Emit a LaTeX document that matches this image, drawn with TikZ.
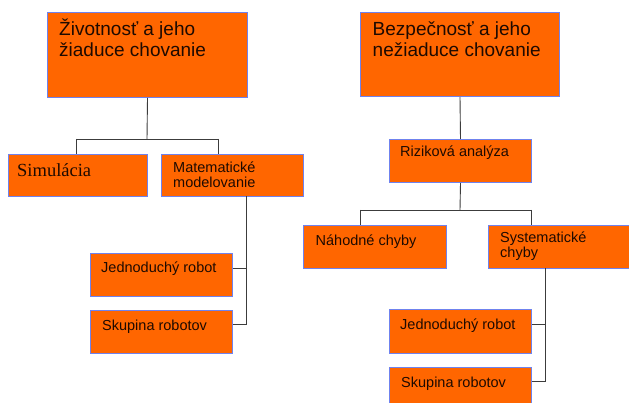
\documentclass[tikz,border=0pt]{standalone}
\usepackage{fontspec}
\setmainfont{Liberation Sans}
\newfontfamily\serifit{Liberation Serif}
\definecolor{boxfill}{HTML}{FF6600}
\definecolor{boxline}{HTML}{6F82EE}
\definecolor{conn}{HTML}{3C3C3C}
\definecolor{txtc}{HTML}{1E0A00}
\tikzset{
  box/.style={draw=boxline, line width=1pt, fill=boxfill, inner sep=0pt, anchor=north west},
  big/.style={anchor=base west, inner sep=0pt, text=txtc, align=left, font=\fontsize{19}{21}\selectfont},
  small/.style={anchor=base west, inner sep=0pt, text=txtc, align=left, font=\fontsize{14.5}{15}\selectfont},
  wire/.style={draw=conn, line width=0.9pt}
}
\begin{document}
\begin{tikzpicture}[x=1pt,y=-1pt]
\useasboundingbox (0,0) rectangle (629,403);
\fill[white] (0,0) rectangle (629,403);
\clip (0,0) rectangle (629,403);
% left tree boxes
\node[box, minimum width=200pt, minimum height=85pt] (L1) at (47,12) {};
\node[box, minimum width=139pt, minimum height=42pt] (sim) at (8,154) {};
\node[box, minimum width=142pt, minimum height=42pt] (mat) at (161,154) {};
\node[box, minimum width=142pt, minimum height=43pt] (jrl) at (90,253) {};
\node[box, minimum width=142pt, minimum height=43pt] (srl) at (90,310) {};
% right tree boxes
\node[box, minimum width=199pt, minimum height=84pt] (R1) at (360,12) {};
\node[box, minimum width=142pt, minimum height=43pt] (riz) at (389,139) {};
\node[box, minimum width=143pt, minimum height=43pt] (nah) at (303,225) {};
\node[box, minimum width=150pt, minimum height=43pt] (sys) at (488,225) {};
\node[box, minimum width=142pt, minimum height=44pt] (jrr) at (389,309) {};
\node[box, minimum width=142pt, minimum height=50pt] (srr) at (389,367) {};
% texts (multi-line nodes: base = last line)
\node[big] (L1t) at (59,57) {Životnosť a jeho\\žiaduce chovanie};
\node[big] (R1t) at (372.5,57) {Bezpečnosť a jeho\\nežiaduce chovanie};
\node[anchor=base west, inner sep=0pt, text=txtc, font=\serifit\fontsize{18.5}{20}\selectfont] (simt) at (17,176.5) {Simulácia};
\node[small] (matt) at (173,188) {Matematické\\modelovanie};
\node[small] (jrlt) at (101,273) {Jednoduchý robot};
\node[small] (srlt) at (102,330.5) {Skupina robotov};
\node[small] (rizt) at (400,156.5) {Riziková analýza};
\node[small] (naht) at (315.5,245.5) {Náhodné chyby};
\node[small] (syst) at (500,258) {Systematické\\chyby};
\node[small] (jrrt) at (400,329) {Jednoduchý robot};
\node[small] (srrt) at (401,387) {Skupina robotov};
% connector points
\coordinate (busL) at (147,139);
\coordinate (dSim) at (76,139);
\coordinate (dMat) at (218,139);
\coordinate (spL) at (246,196);
\coordinate (busR) at (460,210);
\coordinate (dNah) at (360,210);
\coordinate (dSys) at (531,210);
\coordinate (spR) at (545,268);
% connectors
\draw[wire] (L1.south) -- (busL);
\draw[wire] (dSim) -- (dMat);
\draw[wire] (dSim) -- (dSim |- sim.north);
\draw[wire] (dMat) -- (dMat |- mat.north);
\draw[wire] (spL) |- (jrl.east |- 0,268);
\draw[wire] (spL) |- (srl.east |- 0,324);
\draw[wire] (R1.south) -- (riz.north);
\draw[wire] (riz.south) -- (busR);
\draw[wire] (dNah) -- (dSys);
\draw[wire] (dNah) -- (dNah |- nah.north);
\draw[wire] (dSys) -- (dSys |- sys.north);
\draw[wire] (spR) |- (jrr.east |- 0,324);
\draw[wire] (spR) |- (srr.east |- 0,381);
\end{tikzpicture}
\end{document}
